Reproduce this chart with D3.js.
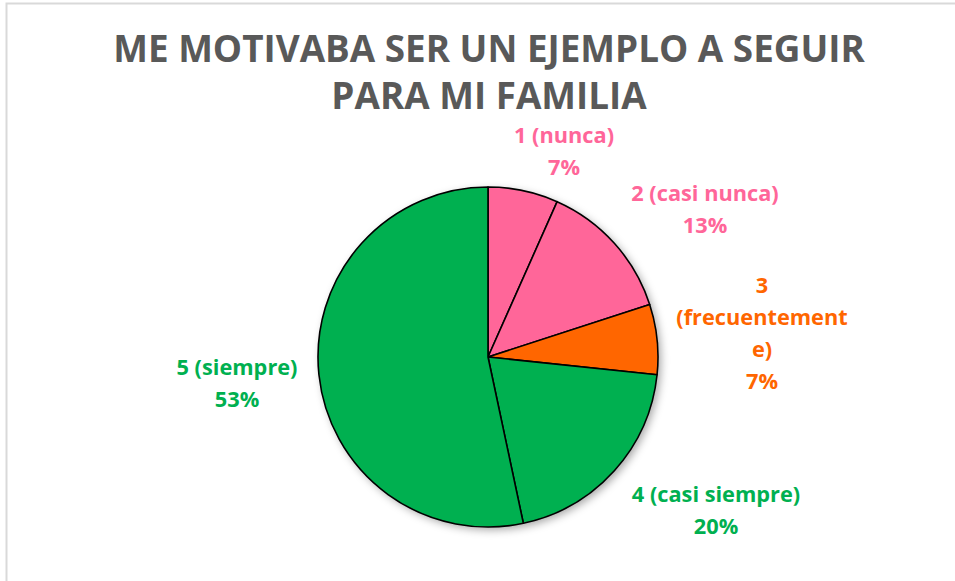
<!DOCTYPE html>
<html>
<head>
<meta charset="utf-8">
<script src="https://cdn.jsdelivr.net/npm/d3@7"></script>
<style>
  body { margin: 0; background: #fff; }
  svg { display: block; }
</style>
</head>
<body>
<div class="viz"></div>
<script>
// chart data
var categories = ["1 (nunca)", "2 (casi nunca)", "3 (frecuentemente)", "4 (casi siempre)", "5 (siempre)"];
var counts = [1, 2, 1, 3, 8];
var titleLines = ["ME MOTIVABA SER UN EJEMPLO A SEGUIR", "PARA MI FAMILIA"];
// label lines as Excel wrapped them
var labelLines = [["1 (nunca)"], ["2 (casi nunca)"], ["3", "(frecuentement", "e)"], ["4 (casi siempre)"], ["5 (siempre)"]];
var fills = ["#ff6699", "#ff6699", "#ff6600", "#00b050", "#00b050"];
var textColors = ["#ff6699", "#ff6699", "#ff6600", "#00b050", "#00b050"];

var SVGwd = 955, SVGht = 581;
var cx = 488, cy = 357, radius = 170;

var canvas = d3.select(".viz")
    .append("svg")
    .attr("width", SVGwd)
    .attr("height", SVGht);

// chart frame (runs off the right and bottom edge)
canvas.append("rect")
    .attr("x", 6.5)
    .attr("y", 3.5)
    .attr("width", 1200)
    .attr("height", 1000)
    .attr("fill", "white")
    .attr("stroke", "#d9d9d9")
    .attr("stroke-width", 2);

var defs = canvas.append("defs");
var shadow = defs.append("filter")
    .attr("id", "shadow")
    .attr("x", "-20%").attr("y", "-20%")
    .attr("width", "140%").attr("height", "140%");
shadow.append("feDropShadow")
    .attr("dx", 3)
    .attr("dy", 3)
    .attr("stdDeviation", 4)
    .attr("flood-color", "#000")
    .attr("flood-opacity", 0.35);

// title
var title = canvas.append("g");
var titleBase = [62, 109];
titleLines.forEach(function (line, i) {
    title.append("text")
        .attr("x", 489)
        .attr("y", titleBase[i])
        .attr("text-anchor", "middle")
        .attr("fill", "#595959")
        .style("font", "bold 36px 'Open Sans'")
        .text(line);
});
// scale title so first line spans the same width as the reference
var w0 = title.select("text").node().getComputedTextLength();
var fs = 36 * 752 / w0;
title.selectAll("text").style("font-size", fs + "px");

var total = d3.sum(counts);
var pct = d3.format(".0%");

var pie = d3.pie().sort(null).value(function (d) { return d; });
var arcs = pie(counts);
var arc = d3.arc().innerRadius(0).outerRadius(radius);

var group = canvas.append("g").attr("transform", "translate(" + cx + "," + cy + ")");

group.append("circle")
    .attr("r", radius)
    .attr("fill", "white")
    .attr("filter", "url(#shadow)");

group.selectAll("path.slice")
    .data(arcs)
    .enter().append("path")
    .attr("class", "slice")
    .attr("d", arc)
    .attr("fill", function (d, i) { return fills[i]; })
    .attr("stroke", "black")
    .attr("stroke-width", 1.6)
    .attr("stroke-linejoin", "round");

// label anchor points (center x, first baseline)
var labelPos = [[564, 143], [705, 201], [762, 293], [716, 502], [237, 375]];
var lineHt = 32;

var labels = canvas.append("g");
arcs.forEach(function (d, i) {
    var lines = labelLines[i].concat([pct(counts[i] / total)]);
    lines.forEach(function (t, j) {
        labels.append("text")
            .attr("x", labelPos[i][0])
            .attr("y", labelPos[i][1] + j * lineHt)
            .attr("text-anchor", "middle")
            .attr("fill", textColors[i])
            .style("font", "bold 20px 'Open Sans'")
            .text(t);
    });
});
// fit label size: "5 (siempre)" is about 121px wide in the reference
var probe = labels.selectAll("text").filter(function () { return this.textContent == "5 (siempre)"; });
var lw = probe.node().getComputedTextLength();
labels.selectAll("text").style("font-size", (20 * 121 / lw) + "px");
</script>
</body>
</html>
